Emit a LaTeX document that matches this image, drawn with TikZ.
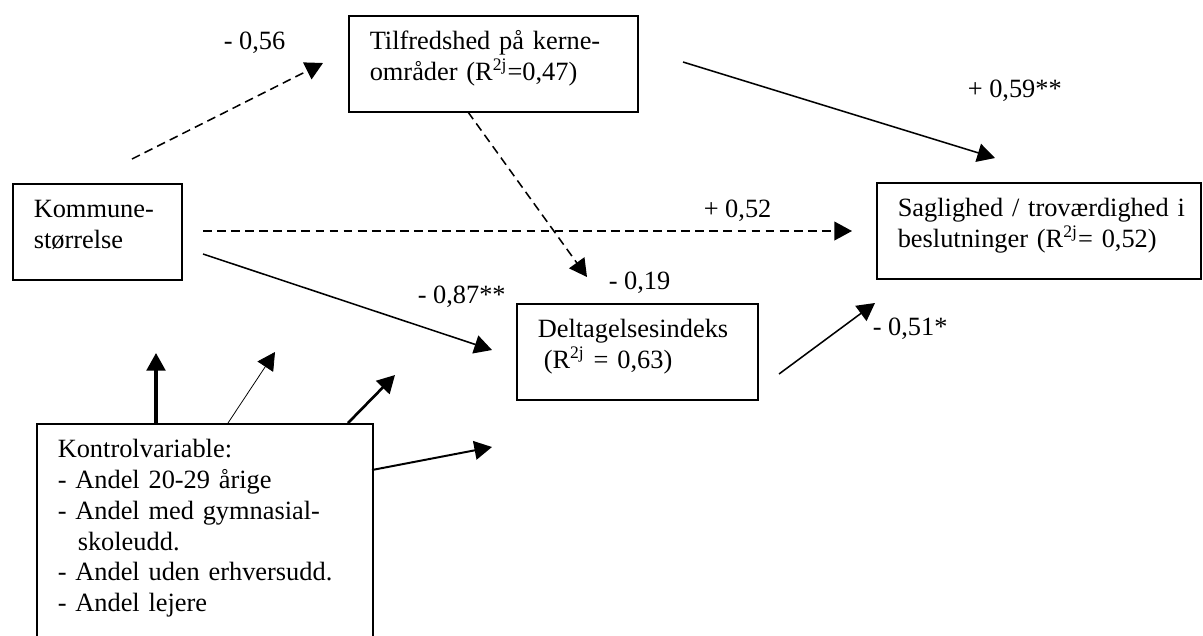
\documentclass[tikz,border=0pt]{standalone}
\usepackage{fontspec}
\setmainfont{Liberation Serif}
\usetikzlibrary{positioning, calc}
\usetikzlibrary{arrows.meta}
\newlength\unitpx
\setlength\unitpx{0.455pt}

\begin{document}
\begin{tikzpicture}[x=0.455pt,y=-0.455pt,->,>={Triangle[length=8pt,width=8.5pt]},line width=0.7pt,font=\fontsize{12}{14}\selectfont]
  \tikzstyle{box}=[draw,anchor=north west,align=left,inner ysep=0pt,inner xsep=21\unitpx,text height=34\unitpx,text depth=62\unitpx]
  \tikzstyle{coef}=[anchor=base west,inner sep=0pt]
  \tikzstyle{dashedarrow}=[dash pattern=on 4pt off 2.4pt]

  \useasboundingbox (0,0) rectangle (1203,635);

  % variables
  \node[box,text width=247\unitpx] (tilf) at (348,15) {Tilfredshed på kerne-\\områder (R\textsuperscript{2j}=0,47)};
  \node[box,text width=127\unitpx] (komm) at (12,183) {Kommune-\\størrelse};
  \node[box,text width=282\unitpx] (sag) at (876,182) {\mbox{Saglighed / troværdighed i}\\beslutninger (R\textsuperscript{2j}= 0,52)};
  \node[box,text width=199\unitpx] (delt) at (516,303) {Deltagelsesindeks\\\hspace*{6\unitpx}(R\textsuperscript{2j} = 0,63)};
  \node[box,text width=294\unitpx,text depth=192\unitpx] (ktrl) at (36,423) {Kontrolvariable:\\- Andel 20-29 årige\\- Andel med gymnasial-\\\hspace*{20\unitpx}skoleudd.\\- Andel uden erhversudd.\\- Andel lejere};

  % coefficients
  \node[coef] (c056) at (223,49) {- 0,56};
  \node[coef] (c059) at (967,97) {+ 0,59**};
  \node[coef] (c052) at (703,217) {+ 0,52};
  \node[coef] (c019) at (608,289) {- 0,19};
  \node[coef] (c087) at (417,303) {- 0,87**};
  \node[coef] (c051) at (872,335) {- 0,51*};

  % arrow ends
  \coordinate (kt-a) at (132,159);   \coordinate (kt-b) at (323,63);
  \coordinate (td-a) at (468,112);   \coordinate (td-b) at (587,277);
  \coordinate (ts-a) at (683,62);    \coordinate (ts-b) at (995,158);
  \coordinate (ks-a) at (203,231);   \coordinate (ks-b) at (852,231);
  \coordinate (kd-a) at (203,254);   \coordinate (kd-b) at (492,350);
  \coordinate (ds-a) at (779,374);   \coordinate (ds-b) at (875,303);
  \coordinate (k1-a) at (156,423);   \coordinate (k1-b) at (156,353);
  \coordinate (k2-a) at (228,423);   \coordinate (k2-b) at (275,352);
  \coordinate (k3-a) at (348,423);   \coordinate (k3-b) at (395,375);
  \coordinate (k4-a) at (372,470);   \coordinate (k4-b) at (492,447);

  \draw[dashedarrow] (kt-a) -- (kt-b);
  \draw[dashedarrow] (td-a) -- (td-b);
  \draw (ts-a) -- (ts-b);
  \draw[dashedarrow] (ks-a) -- (ks-b);
  \draw (kd-a) -- (kd-b);
  \draw (ds-a) -- (ds-b);

  % control variables
  \draw[line width=1.4pt] (k1-a) -- (k1-b);
  \draw[line width=0.35pt] (k2-a) -- (k2-b);
  \draw[line width=1.2pt] (k3-a) -- (k3-b);
  \draw[line width=0.9pt] (k4-a) -- (k4-b);
\end{tikzpicture}
\end{document}
